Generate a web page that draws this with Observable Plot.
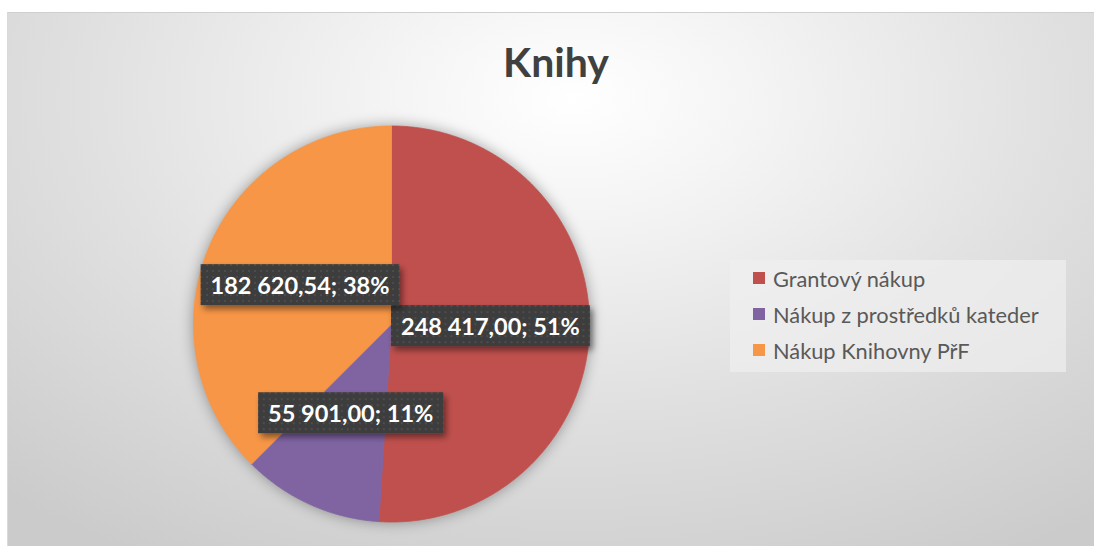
<!DOCTYPE html>
<html>
<head>
<meta charset="utf-8">
<script src="https://cdn.jsdelivr.net/npm/d3@7"></script>
<script src="https://cdn.jsdelivr.net/npm/@observablehq/plot@0.6"></script>
<style>
  html, body { margin: 0; padding: 0; background: #ffffff; width: 1094px; height: 546px; overflow: hidden; font-family: Lato, "Open Sans", sans-serif; }
  #frame { position: absolute; left: 7px; top: 12px; width: 1087px; height: 534px;
    background: radial-gradient(ellipse 78% 100% at 52% 16%, #ffffff 0%, #f4f4f4 22%, #e0e0e0 58%, #cbcbcb 100%);
    border-top: 1px solid #cfcfcf; border-left: 1px solid #dadada; box-sizing: border-box; }
  #chart { position: absolute; left: 0; top: 0; }
  #title { position: absolute; left: 456px; width: 200px; top: 42px; text-align: center; font: bold 41px/40px Lato, sans-serif; color: #404040; }
  #legend { position: absolute; left: 730px; top: 260px; width: 336px; height: 112px; background: rgba(240,240,240,0.7); }
  .item { position: absolute; left: 23px; height: 22px; font: 21.8px/22px Lato, sans-serif; color: #595959; white-space: nowrap; }
  .sw { position: absolute; left: 0; top: 4px; width: 12px; height: 12px; }
  .lab { position: absolute; left: 20px; top: 0; }
</style>
</head>
<body>
<div id="frame"></div>
<div id="chart"></div>
<div id="title"></div>
<div id="legend"></div>
<script>
const title = "Knihy";
const categories = ["Grantový nákup", "Nákup z prostředků kateder", "Nákup Knihovny PřF"];
const values = [248417.00, 55901.00, 182620.54];
const colors = ["#C0504D", "#8064A2", "#F79646"];

const total = d3.sum(values);
const arcs = d3.pie().sort(null).value(d => d.value)(categories.map((name, i) => ({name, value: values[i]})));
const czFmt = d3.formatLocale({decimal: ",", thousands: " ", grouping: [3], currency: ["", " Kč"]}).format(",.2f");

// slice outlines (unit circle) computed from pie angles
const slicePts = [];
for (const a of arcs) {
  const name = a.data.name;
  slicePts.push({name, x: 0, y: 0});
  const n = Math.max(2, Math.ceil((a.endAngle - a.startAngle) / (Math.PI / 360)));
  for (let k = 0; k <= n; k++) {
    const t = a.startAngle + (a.endAngle - a.startAngle) * k / n;
    slicePts.push({name, x: Math.sin(t), y: Math.cos(t)});
  }
  slicePts.push({name, x: 0, y: 0});
}
const labels = arcs.map(a => {
  const m = (a.startAngle + a.endAngle) / 2;
  return {x: 0.5 * Math.sin(m), y: 0.5 * Math.cos(m),
          text: `${czFmt(a.value)}; ${Math.round(a.value / total * 100)}%`};
});

const chart = Plot.plot({
  width: 1094, height: 546, margin: 0,
  x: {domain: [-1, 1], range: [193, 589], axis: null},
  y: {domain: [-1, 1], range: [521.5, 125.5], axis: null},
  color: {domain: categories, range: colors},
  style: {background: "transparent", overflow: "visible"},
  marks: [
    Plot.line(slicePts, {x: "x", y: "y", z: "name", fill: "name", stroke: "name", strokeWidth: 0.8, curve: "linear"}),
    Plot.text(labels, {x: "x", y: "y", text: "text", fill: "white", fontSize: 23.5, fontWeight: "bold", fontFamily: "Lato"})
  ]
});
document.getElementById("chart").appendChild(chart);

const svg = d3.select(chart);
const defs = svg.insert("defs", ":first-child");
const pat = defs.append("pattern").attr("id", "dots").attr("width", 6).attr("height", 6).attr("patternUnits", "userSpaceOnUse");
pat.append("rect").attr("width", 6).attr("height", 6).attr("fill", "#3c3c3c");
pat.append("rect").attr("x", 2).attr("y", 2).attr("width", 2).attr("height", 2).attr("fill", "#4d4d4d");
const f = defs.append("filter").attr("id", "sh").attr("x", "-20%").attr("y", "-40%").attr("width", "150%").attr("height", "200%");
f.append("feDropShadow").attr("dx", 3).attr("dy", 4).attr("stdDeviation", 3).attr("flood-color", "#000").attr("flood-opacity", 0.45);

svg.select('g[aria-label="line"]').style("filter", "drop-shadow(0px 0px 7px rgba(0,0,0,0.35))");
svg.selectAll('g[aria-label="text"] text').each(function() {
  const bb = this.getBBox();
  const cy = bb.y + bb.height / 2;
  const r = d3.select(this.parentNode).insert("rect", () => this)
    .attr("x", bb.x - 10).attr("y", cy - 20.5)
    .attr("width", bb.width + 20).attr("height", 41)
    .attr("fill", "url(#dots)").attr("filter", "url(#sh)");
  const tr = this.getAttribute("transform");
  if (tr) r.attr("transform", tr);
});

document.getElementById("title").textContent = title;
const legend = document.getElementById("legend");
categories.forEach((c, i) => {
  const it = document.createElement("div");
  it.className = "item";
  it.style.top = (8 + i * 36) + "px";
  const sw = document.createElement("div");
  sw.className = "sw"; sw.style.background = colors[i];
  const lab = document.createElement("div");
  lab.className = "lab"; lab.textContent = c;
  it.appendChild(sw); it.appendChild(lab);
  legend.appendChild(it);
});
</script>
</body>
</html>
